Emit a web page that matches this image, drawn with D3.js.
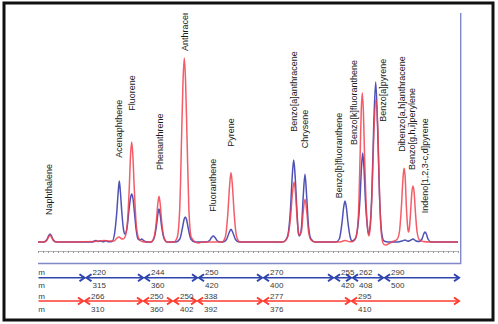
<!DOCTYPE html>
<html><head><meta charset="utf-8">
<script src="https://cdn.jsdelivr.net/npm/d3@7"></script>
<style>html,body{margin:0;padding:0;background:#fff;} svg{display:block;}</style>
</head><body>
<script>
// ---------- DATA ----------
// Chromatogram traces: [retention time (min), signal]
const blueTrace = [[0,0],[0.6,0],[0.9,2.5],[1.08,6.5],[1.2,8],[1.32,6.5],[1.5,2.5],[1.8,0],
 [5.4,0],[5.8,1.5],[6.0,0.5],[6.2,1],[6.5,0.3],[6.8,1.2],[7.0,0.3],
 [7.4,0.5],[7.65,8],[7.88,30],[8.02,50],[8.13,61],[8.24,50],[8.38,30],[8.56,12],[8.7,8],
 [8.9,14],[9.1,32],[9.25,44],[9.37,48],[9.49,44],[9.64,30],[9.82,12],[10.0,3],[10.2,2],[10.37,3],[10.5,2],[10.7,0.5],[11.0,0],
 [11.3,0],[11.58,3],[11.83,15],[11.99,28],[12.1,33],[12.21,28],[12.37,15],[12.62,3],[12.9,0],
 [13.8,0],[14.18,3],[14.48,16],[14.62,23],[14.73,25],[14.84,23],[14.98,16],[15.28,3],[15.7,0],
 [16.8,0],[17.15,1.5],[17.35,4.5],[17.53,6],[17.7,4.5],[17.9,1.5],[18.2,0],
 [18.5,0],[18.85,2.5],[19.1,9],[19.3,12.7],[19.5,9],[19.75,2.5],[20.1,0],
 [24.5,0],[24.93,5],[25.23,30],[25.42,65],[25.57,82],[25.72,65],[25.9,30],[26.05,8],[26.15,6],
 [26.35,15],[26.52,45],[26.7,67.7],[26.87,45],[27.06,15],[27.3,3],[27.7,0],
 [29.8,0],[30.13,3],[30.41,20],[30.57,35],[30.7,41],[30.83,35],[30.99,20],[31.22,5],[31.4,1],
 [31.7,3],[31.98,15],[32.21,45],[32.35,75],[32.47,89],[32.59,75],[32.75,40],[32.91,18],[33.05,8],
 [33.2,15],[33.39,50],[33.57,115],[33.77,160],[33.96,115],[34.14,50],[34.36,10],[34.6,1],[35.0,0],
 [36.0,0],[36.4,1],[36.7,2],[37.0,0.8],[37.2,1.5],[37.5,3],[37.8,1],[38.1,0.5],
 [38.4,3],[38.57,8],[38.7,10],[38.84,8],[39.0,3],[39.3,0],[42.0,0]];

const redTrace = [[0,0],[0.6,0],[0.9,2],[1.08,5.5],[1.2,7],[1.32,5.5],[1.5,2],[1.8,0],
 [5.7,0.5],[6.6,1.5],[7.2,1],
 [7.6,1],[7.9,4],[8.1,5],[8.3,3.5],[8.5,3],[8.7,5],
 [8.93,18],[9.13,55],[9.26,88],[9.37,100],[9.48,88],[9.62,55],[9.82,18],[10.06,4],[10.4,0.5],[10.8,0],
 [11.3,0],[11.58,4],[11.83,20],[11.99,39],[12.1,45.7],[12.21,39],[12.37,20],[12.62,4],[12.9,0],
 [13.6,0],[13.93,5],[14.18,35],[14.36,105],[14.5,160],[14.63,184],[14.76,160],[14.9,105],[15.08,35],[15.32,5],[15.7,0],[16.0,-1],[16.4,0],
 [18.4,0],[18.73,5],[18.98,28],[19.15,55],[19.3,69.5],[19.45,55],[19.62,28],[19.87,5],[20.2,0],
 [24.5,0],[24.93,4],[25.23,22],[25.44,48],[25.6,60],[25.76,48],[25.92,22],[26.08,8],[26.15,7],
 [26.35,11],[26.52,30],[26.7,42.7],[26.88,30],[27.06,10],[27.3,2],[27.7,0],
 [30.2,0],[30.7,1.5],[31.2,0.3],
 [31.5,0.5],[31.78,4],[32.03,25],[32.22,90],[32.32,130],[32.43,149],[32.54,130],[32.66,85],[32.85,30],[33.0,10],[33.1,6],
 [33.2,12],[33.39,45],[33.59,110],[33.8,143],[33.99,110],[34.16,45],[34.36,6],[34.55,-2],[34.8,-3],[35.1,-1.5],[35.4,0],
 [35.6,1],[35.9,2.5],[36.14,10],[36.34,35],[36.49,62],[36.6,73.7],[36.71,66],[36.84,35],[37.0,12],[37.07,10],
 [37.15,15],[37.29,35],[37.39,50],[37.5,56],[37.61,50],[37.74,30],[37.91,10],[38.15,2],[38.5,0.5],[39.2,0],[42.0,0]];

// Peak names
const peakNames = ["Naphthalene","Acenaphthene","Fluorene","Phenanthrene","Anthracene","Fluoranthene","Pyrene",
 "Benzo[a]anthracene","Chrysene","Benzo[b]fluoranthene","Benzo[k]fluoranthene","Benzo[a]pyrene",
 "Dibenzo[a,h]anthracene","Benzo[g,h,i]perylene","Indeno[1,2,3-c,d]pyrene"];

// Wavelength program (switch times in min, excitation / emission nm)
const blueTimes = [4.75,10.6,16.0,22.5,29.6,31.4,34.6];
const blueEx = [220,244,250,270,255,262,290];
const blueEm = [315,360,420,400,420,408,500];
const redTimes = [4.6,10.5,13.5,15.9,22.5,31.3];
const redEx = [266,250,250,338,277,295];
const redEm = [310,360,402,392,376,410];

// ---------- LAYOUT (annotation anchors, not data) ----------
const labelAnchorT = [1.13,8.1,9.43,12.2,14.73,17.47,19.27,25.57,26.73,30.07,31.6,34.5,36.4,37.4,38.73];
const labelAnchorS = [27,84.3,131.3,72,191,30.3,95.3,110.3,93.7,43.7,97,120.3,90.3,72,28.7];

const W = 498, H = 324;
const svg = d3.select("body").append("svg").attr("width", W).attr("height", H);
svg.append("rect").attr("width", W).attr("height", H).attr("fill", "#fff");

const x = d3.scaleLinear().domain([0, 42.3]).range([38, 461]);
const y = d3.scaleLinear().domain([0, 200]).range([242, 42]);

const defs = svg.append("defs");
defs.append("clipPath").attr("id","plotClip").append("rect").attr("x",38).attr("y",13).attr("width",422).attr("height",240);
defs.append("clipPath").attr("id","rowClip").append("rect").attr("x",38.5).attr("y",264).attr("width",440).attr("height",56);

// tick axis
const axis = d3.axisBottom(x).tickValues(d3.range(0, 42.01, 0.5)).tickSize(2).tickFormat("");
const ax = svg.append("g").attr("transform","translate(0,251)").call(axis);
ax.select(".domain").attr("stroke","#b5b5b5").attr("d", `M${x(0)},0.5H${x(42)}`);
ax.selectAll(".tick line").attr("stroke","#999");

// traces
const line = d3.line().x(d=>x(d[0])).y(d=>y(d[1])).curve(d3.curveMonotoneX);
const g = svg.append("g").attr("clip-path","url(#plotClip)");
g.append("path").datum(blueTrace).attr("d", line).attr("fill","none").attr("stroke","#3b3fae").attr("stroke-width",1.5).attr("stroke-opacity",0.9);
g.append("path").datum(redTrace).attr("d", line).attr("fill","none").attr("stroke","#f2404c").attr("stroke-width",1.5).attr("stroke-opacity",0.85);

// peak labels
g.selectAll("text.peak").data(peakNames).join("text")
 .attr("class","peak")
 .attr("transform",(d,i)=>`translate(${x(labelAnchorT[i])},${y(labelAnchorS[i])}) rotate(-90)`)
 .attr("dy","0.35em").attr("text-anchor","start")
 .attr("font-family","Liberation Sans, Arial, sans-serif").attr("font-size",9).attr("fill","#1a1a1a")
 .text(d=>d);

// right/bottom frame of plot
svg.append("path").attr("d",`M${x(0)},263.5H460.7V13`).attr("fill","none").attr("stroke","#8088c8").attr("stroke-width",1.4);

// wavelength rows
function row(times, ex, em, yy, color, yEx, yEm){
  const rg = svg.append("g").attr("clip-path","url(#rowClip)");
  const bounds = [x(0)].concat(times.map(t=>x(t))).concat([460]);
  for (let i=0;i<bounds.length-1;i++){
    const a = bounds[i] + (i===0?0:1), b = bounds[i+1] - 1;
    rg.append("line").attr("x1",a).attr("x2",b).attr("y1",yy).attr("y2",yy).attr("stroke",color).attr("stroke-width",1.5);
    rg.append("path").attr("d",`M${b-5},${yy-3.5}L${b},${yy}L${b-5},${yy+3.5}`).attr("fill","none").attr("stroke",color).attr("stroke-width",2);
    if (i>0) rg.append("path").attr("d",`M${a+5},${yy-3.5}L${a},${yy}L${a+5},${yy+3.5}`).attr("fill","none").attr("stroke",color).attr("stroke-width",2);
  }
  const tf = {"font-family":"Liberation Sans, Arial, sans-serif","font-size":8,"fill":"#3a3a3a"};
  function T(sel){ for (const k in tf) sel.attr(k, tf[k]); return sel; }
  times.forEach((t,i)=>{
    T(rg.append("text").attr("x",x(t)+7).attr("y",yEx).text(ex[i]));
    T(rg.append("text").attr("x",x(t)+7).attr("y",yEm).text(em[i]));
  });
  T(rg.append("text").attr("x",45).attr("y",yEx).attr("text-anchor","end").text("nm"));
  T(rg.append("text").attr("x",45).attr("y",yEm).attr("text-anchor","end").text("nm"));
}
row(blueTimes, blueEx, blueEm, 277.7, "#2e45ad", 275, 288);
row(redTimes, redEx, redEm, 301, "#ff3b2f", 299, 311.5);

// outer black frame
svg.append("rect").attr("x",4).attr("y",3).attr("width",489).attr("height",317).attr("fill","none").attr("stroke","#111").attr("stroke-width",3);
</script>
</body></html>
